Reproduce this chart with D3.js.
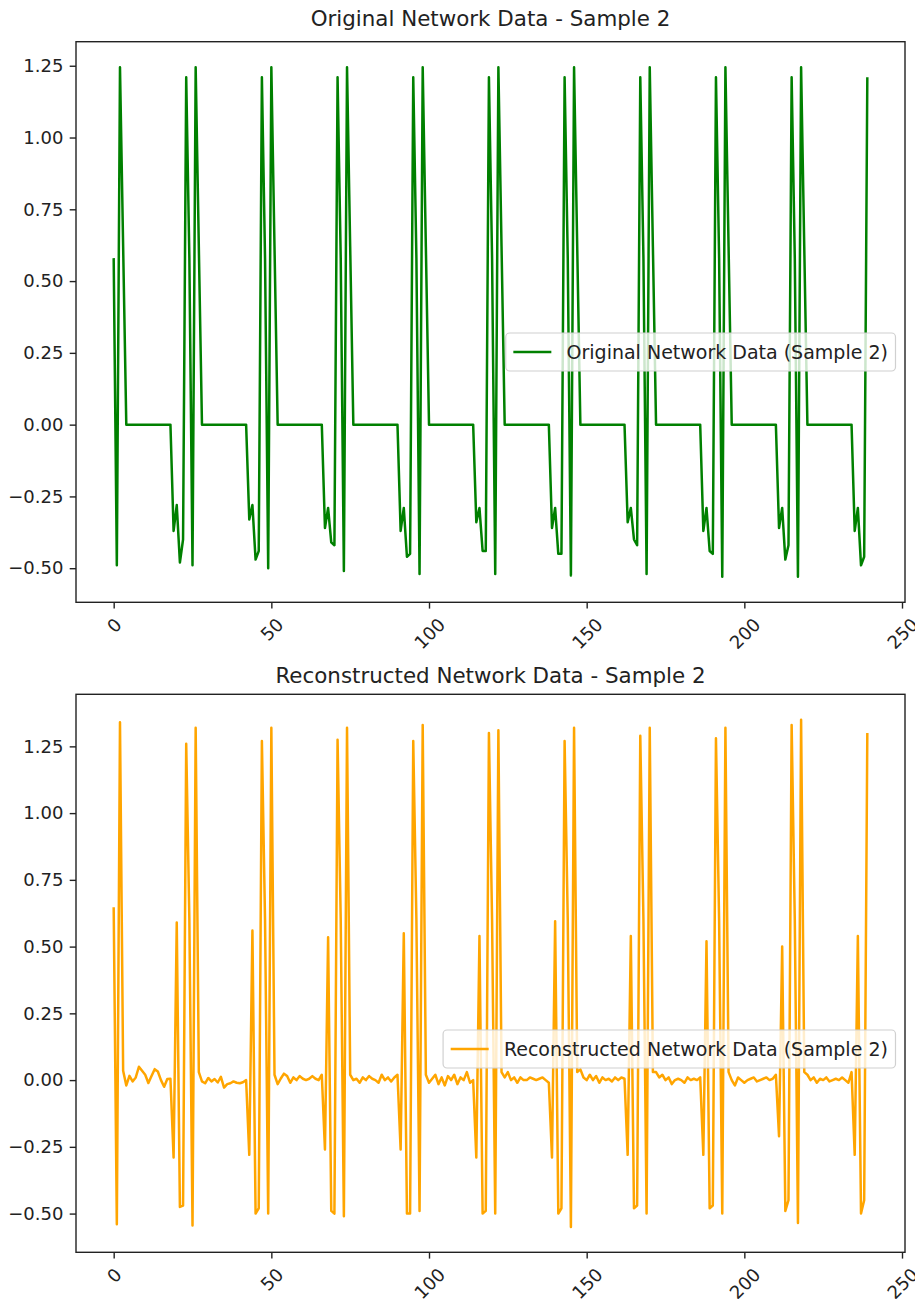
<!DOCTYPE html>
<html>
<head>
<meta charset="utf-8">
<script src="https://cdn.jsdelivr.net/npm/d3@7"></script>
<style>
  body { margin: 0; background: #fff; }
  text { font-family: "DejaVu Sans", sans-serif; fill: #222; }
</style>
</head>
<body>
<div id="chart"></div>
<script>
// tick values
const xTicks = [0, 50, 100, 150, 200, 250];
const yTicks = [-0.5, -0.25, 0, 0.25, 0.5, 0.75, 1.0, 1.25];

// original signal, one row per cycle of 24 samples
const original = [
  0.58, -0.49, 1.245, 0.62, 0, 0, 0, 0, 0, 0, 0, 0, 0, 0, 0, 0, 0, 0, 0, -0.37, -0.28, -0.48, -0.40, 1.21,
  0.58, -0.49, 1.245, 0.62, 0, 0, 0, 0, 0, 0, 0, 0, 0, 0, 0, 0, 0, 0, 0, -0.33, -0.28, -0.47, -0.44, 1.21,
  0.58, -0.50, 1.245, 0.62, 0, 0, 0, 0, 0, 0, 0, 0, 0, 0, 0, 0, 0, 0, 0, -0.36, -0.29, -0.41, -0.42, 1.21,
  0.58, -0.51, 1.245, 0.62, 0, 0, 0, 0, 0, 0, 0, 0, 0, 0, 0, 0, 0, 0, 0, -0.37, -0.29, -0.46, -0.45, 1.21,
  0.58, -0.52, 1.245, 0.62, 0, 0, 0, 0, 0, 0, 0, 0, 0, 0, 0, 0, 0, 0, 0, -0.34, -0.29, -0.44, -0.44, 1.21,
  0.58, -0.52, 1.245, 0.62, 0, 0, 0, 0, 0, 0, 0, 0, 0, 0, 0, 0, 0, 0, 0, -0.36, -0.29, -0.45, -0.45, 1.21,
  0.58, -0.525, 1.245, 0.62, 0, 0, 0, 0, 0, 0, 0, 0, 0, 0, 0, 0, 0, 0, 0, -0.34, -0.29, -0.40, -0.42, 1.21,
  0.58, -0.52, 1.245, 0.62, 0, 0, 0, 0, 0, 0, 0, 0, 0, 0, 0, 0, 0, 0, 0, -0.37, -0.29, -0.44, -0.45, 1.21,
  0.58, -0.53, 1.245, 0.62, 0, 0, 0, 0, 0, 0, 0, 0, 0, 0, 0, 0, 0, 0, 0, -0.36, -0.29, -0.47, -0.42, 1.21,
  0.58, -0.53, 1.245, 0.62, 0, 0, 0, 0, 0, 0, 0, 0, 0, 0, 0, 0, 0, 0, 0, -0.37, -0.29, -0.49, -0.46, 1.21
];

// reconstructed signal
const reconstructed = [
  0.647, -0.54, 1.34, 0.035, -0.02, 0.016, -0.005, 0.01, 0.05, 0.035, 0.02, -0.011, 0.015, 0.041, 0.032, 0.0, -0.025, 0.004, 0.005, -0.29, 0.59, -0.475, -0.47, 1.26,
  0.6, -0.545, 1.32, 0.03, -0.005, -0.012, 0.008, -0.005, 0.004, -0.009, 0.012, -0.028, -0.015, -0.012, -0.005, -0.01, -0.012, -0.008, 0.0, -0.28, 0.56, -0.50, -0.48, 1.27,
  0.6, -0.50, 1.32, 0.02, -0.015, 0.006, 0.024, 0.015, -0.01, 0.01, 0.0, 0.015, 0.005, 0.0, 0.005, 0.015, 0.005, 0.0, 0.02, -0.26, 0.535, -0.49, -0.50, 1.275,
  0.6, -0.51, 1.32, 0.02, 0.0, 0.005, -0.01, 0.01, 0.0, 0.015, 0.005, 0.0, -0.01, 0.02, 0.0, 0.01, -0.005, 0.01, 0.02, -0.26, 0.55, -0.50, -0.50, 1.27,
  0.6, -0.49, 1.33, 0.02, -0.01, 0.005, 0.02, -0.015, 0.01, -0.02, 0.015, 0.0, 0.02, -0.015, 0.01, 0.0, 0.03, -0.01, 0.0, -0.29, 0.54, -0.50, -0.49, 1.30,
  0.6, -0.50, 1.31, 0.03, 0.01, 0.03, 0.0, 0.01, -0.01, 0.01, 0.0, 0.0, 0.01, 0.005, 0.0, 0.005, 0.01, 0.0, -0.01, -0.29, 0.595, -0.50, -0.48, 1.27,
  0.6, -0.55, 1.32, 0.03, 0.04, 0.01, 0.0, 0.02, 0.0, 0.015, -0.01, 0.01, 0.0, 0.005, -0.005, 0.01, 0.0, 0.01, 0.005, -0.28, 0.54, -0.48, -0.47, 1.29,
  0.6, -0.50, 1.32, 0.03, 0.03, 0.01, 0.02, 0.0, 0.01, -0.015, 0.0, 0.005, 0.0, -0.01, 0.01, 0.0, 0.005, 0.0, 0.01, -0.28, 0.52, -0.48, -0.47, 1.28,
  0.6, -0.50, 1.32, 0.03, 0.0, -0.02, 0.01, 0.0, -0.01, 0.0, 0.005, 0.01, -0.005, 0.0, 0.005, 0.01, 0.0, 0.005, 0.02, -0.21, 0.50, -0.49, -0.45, 1.33,
  0.6, -0.535, 1.35, 0.03, 0.02, 0.0, 0.01, -0.01, 0.005, 0.0, 0.01, -0.005, 0.0, 0.005, 0.0, 0.01, 0.0, -0.01, 0.03, -0.28, 0.54, -0.50, -0.45, 1.30
];

const width = 915, height = 1299;
const left = 76, right = 905;

const panels = [
  { title: "Original Network Data - Sample 2", label: "Original Network Data (Sample 2)",
    values: original, color: "green", top: 41.7, bottom: 602.3, legendY: 352, titleOff: 16 },
  { title: "Reconstructed Network Data - Sample 2", label: "Reconstructed Network Data (Sample 2)",
    values: reconstructed, color: "orange", top: 694.3, bottom: 1252.3, legendY: 1049, titleOff: 11 }
];

const svg = d3.select("#chart").append("svg")
  .attr("width", width)
  .attr("height", height);

const tickLen = 6.3, tickPad = 6.3;

panels.forEach(p => {
  const n = p.values.length;
  // matplotlib style 5% margins
  const xPad = (n - 1) * 0.05;
  const x = d3.scaleLinear().domain([-xPad, n - 1 + xPad]).range([left, right]);
  const [lo, hi] = d3.extent(p.values);
  const yPad = (hi - lo) * 0.05;
  const y = d3.scaleLinear().domain([lo - yPad, hi + yPad]).range([p.bottom, p.top]);

  const g = svg.append("g");

  // line
  const line = d3.line().x((d, i) => x(i)).y(d => y(d));
  g.append("path")
    .datum(p.values)
    .attr("fill", "none")
    .attr("stroke", p.color)
    .attr("stroke-width", 2.5)
    .attr("stroke-linejoin", "round")
    .attr("d", line);

  // y axis
  const yAxis = g.append("g")
    .attr("transform", `translate(${left},0)`)
    .call(d3.axisLeft(y).tickValues(yTicks).tickFormat(d3.format(".2f"))
      .tickSize(tickLen).tickPadding(tickPad));
  yAxis.select(".domain").remove();
  yAxis.selectAll("line").attr("stroke", "#222").attr("stroke-width", 1.4);
  yAxis.selectAll("text").attr("font-size", 18).attr("fill", "#222")
    .attr("font-family", "DejaVu Sans");

  // x axis
  const xAxis = g.append("g")
    .attr("transform", `translate(0,${p.bottom})`)
    .call(d3.axisBottom(x).tickValues(xTicks).tickFormat(d3.format("d"))
      .tickSize(tickLen).tickPadding(tickPad));
  xAxis.select(".domain").remove();
  xAxis.selectAll("line").attr("stroke", "#222").attr("stroke-width", 1.4);
  xAxis.selectAll("text")
    .attr("font-size", 18).attr("fill", "#222").attr("font-family", "DejaVu Sans")
    .attr("dy", null).attr("y", null)
    .attr("text-anchor", "middle")
    .attr("dominant-baseline", "central")
    .each(function () {
      // rotate 45 deg, top of rotated box sits below the tick
      const w = this.getComputedTextLength();
      const h = 18 * 1.0;
      const half = (w + h) * Math.SQRT1_2 / 2;
      d3.select(this).attr("transform", `translate(0,${tickLen + tickPad + half}) rotate(-45)`);
    });

  // frame
  g.append("rect")
    .attr("x", left).attr("y", p.top)
    .attr("width", right - left).attr("height", p.bottom - p.top)
    .attr("fill", "none").attr("stroke", "#222").attr("stroke-width", 1.4);

  // title
  g.append("text")
    .attr("x", (left + right) / 2)
    .attr("y", p.top - p.titleOff)
    .attr("text-anchor", "middle")
    .attr("font-size", 21.4)
    .text(p.title);

  // legend
  const fs = 19;
  const lg = g.append("g");
  const txt = lg.append("text")
    .attr("font-size", fs)
    .attr("dominant-baseline", "central")
    .text(p.label);
  const tw = txt.node().getComputedTextLength();
  const boxRight = right - 0.5 * fs;
  const textX = boxRight - 0.4 * fs - tw;
  const handleX1 = textX - 0.8 * fs - 2 * fs;
  const boxLeft = handleX1 - 0.4 * fs;
  const boxH = 2.0 * fs;
  txt.attr("x", textX).attr("y", p.legendY);
  lg.insert("rect", "text")
    .attr("x", boxLeft).attr("y", p.legendY - boxH / 2)
    .attr("width", boxRight - boxLeft).attr("height", boxH)
    .attr("rx", 4)
    .attr("fill", "white").attr("fill-opacity", 0.8)
    .attr("stroke", "#d0d0d0").attr("stroke-width", 1.2);
  lg.append("line")
    .attr("x1", handleX1).attr("x2", handleX1 + 2 * fs)
    .attr("y1", p.legendY).attr("y2", p.legendY)
    .attr("stroke", p.color).attr("stroke-width", 2.5);
});
</script>
</body>
</html>
